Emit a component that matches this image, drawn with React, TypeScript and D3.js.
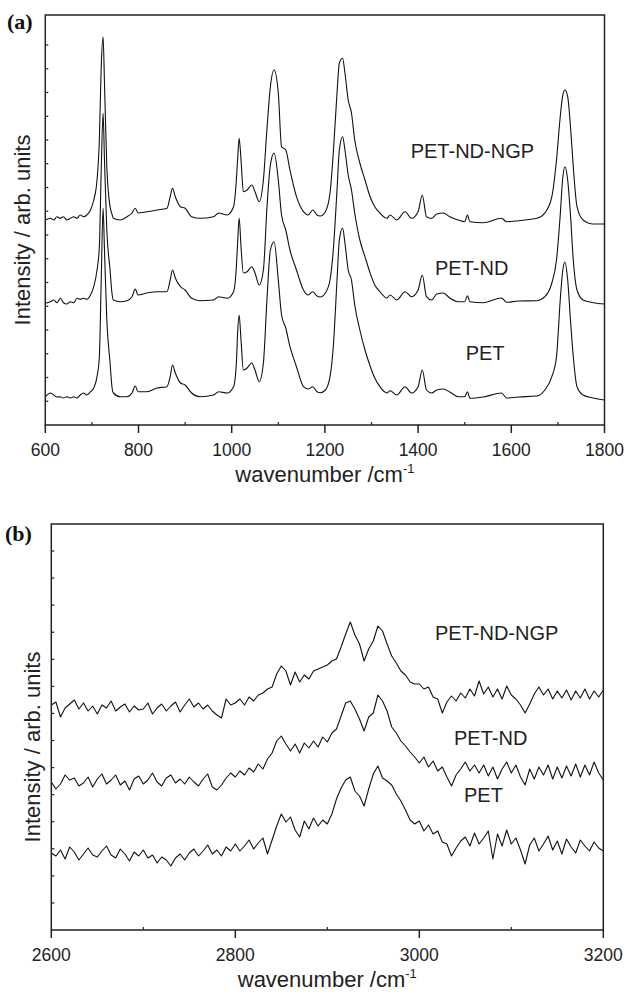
import React from 'react';
import * as d3 from 'd3';

// panel (a): fingerprint region, intensities in arb. units (stacked as plotted)
const wnA = [600, 611, 618, 625, 632, 639, 646, 654, 661, 668,
  675, 682, 689, 697, 704, 711, 716, 720, 724, 727,
  732, 739, 743, 746, 761, 775, 786, 793, 799, 818,
  840, 861, 868, 873, 879, 890, 900, 914, 932, 961,
  972, 990, 1004, 1010, 1013, 1016, 1020, 1025, 1033, 1043,
  1050, 1059, 1068, 1076, 1083, 1091, 1100, 1107, 1116, 1125,
  1139, 1154, 1164, 1174, 1183, 1190, 1201, 1211, 1218, 1226,
  1231, 1238, 1243, 1250, 1257, 1264, 1275, 1286, 1297, 1307,
  1318, 1333, 1340, 1354, 1372, 1386, 1400, 1409, 1418, 1429,
  1440, 1454, 1468, 1486, 1500, 1506, 1511, 1540, 1579, 1590,
  1615, 1655, 1672, 1687, 1697, 1705, 1710, 1715, 1721, 1727,
  1733, 1741, 1754, 1776, 1800];

const petA = [28.3, 32, 30, 28, 28.3, 27, 28.3, 27, 28.3, 27,
  30, 32, 30, 33.3, 37, 48.3, 68.3, 145, 217, 175,
  105, 62, 38.3, 32, 28.3, 28.3, 32, 39, 33.3, 33.3,
  37, 38.3, 48.3, 60, 52, 42, 40, 32, 28.3, 30,
  33.3, 32, 38.3, 62, 95, 110, 85, 55, 57, 62,
  55, 43.3, 62, 128.3, 175, 183.3, 145, 110, 97, 78.3,
  58.3, 38.3, 36, 38.3, 33.3, 32.3, 35, 48.3, 78.3, 145,
  185, 197, 182, 155, 145, 120, 95, 75, 59, 47,
  38.3, 32, 34.3, 30, 38.3, 32, 38.3, 55, 35, 32,
  35, 36, 33, 28.3, 28.3, 33.3, 26.7, 28, 32, 27,
  28, 29, 35, 48.3, 68.3, 125, 153, 163, 145, 105,
  68.3, 38.3, 30, 27, 25];

const ndA = [121.7, 123.3, 125, 122.3, 126.7, 122.3, 121, 123.3, 122.3, 126.7,
  125.7, 126.7, 125.7, 130, 138.3, 155, 178.3, 255, 312, 265,
  195, 155, 132, 125, 123.3, 124.3, 128.3, 136, 130, 132,
  133.3, 133.3, 145, 155, 147, 138.3, 135, 126.7, 124.3, 125,
  128.3, 126.7, 133.3, 158.3, 185, 207, 178.3, 152, 153.3, 158.3,
  152, 140, 155, 220, 260, 272, 245, 210, 195, 175,
  155, 135, 130, 133.3, 129, 128, 132, 145, 175, 235,
  275, 288.3, 275, 250, 235, 212, 185, 168.3, 152, 140,
  133.3, 127, 130, 125, 133.3, 128.3, 135, 150, 128.3, 125,
  131, 132, 127, 123.3, 123.3, 129.3, 123.3, 122.3, 127, 122.7,
  124, 124.3, 128.3, 142, 165, 210, 245, 258.3, 245, 210,
  165, 135, 125, 122.3, 121];

const ngpA = [205, 206.7, 205, 208.3, 206.7, 208.3, 205, 206.7, 208.3, 206.7,
  210, 208.3, 210, 215, 225, 245, 285, 358.3, 388.3, 342,
  258.3, 218.3, 211, 206.7, 205, 208.3, 212, 216.7, 212, 213.3,
  215, 216.7, 228.3, 236.7, 228.3, 218.3, 216.7, 208.3, 206.7, 208.3,
  212, 210, 218.3, 245, 268.3, 286.7, 265, 233.3, 235, 240,
  233.3, 223.3, 245, 298.3, 338.3, 355, 332, 278.3, 275, 255,
  228.3, 213.3, 210, 215, 210, 209, 213.3, 232, 272, 332,
  362, 366.7, 352, 325, 312, 285, 262, 245, 228.3, 218.3,
  212, 206.7, 210, 205, 213.3, 206.7, 213.3, 230, 208.3, 206.7,
  211, 212, 208.3, 205, 203.3, 210, 203.3, 202.3, 206.7, 203.3,
  204.3, 206.7, 212, 228.3, 265, 308.3, 328.3, 335, 328.3, 298.3,
  258.3, 218.3, 205, 201, 201];

// panel (b): C-H stretching region
const wnB = [2600, 2605, 2610, 2615, 2620, 2625, 2630, 2635, 2640, 2645,
  2650, 2655, 2660, 2665, 2670, 2675, 2680, 2685, 2690, 2695,
  2700, 2705, 2710, 2715, 2720, 2725, 2730, 2735, 2740, 2745,
  2750, 2755, 2760, 2765, 2770, 2775, 2780, 2785, 2790, 2795,
  2800, 2805, 2810, 2815, 2820, 2825, 2830, 2835, 2840, 2845,
  2850, 2855, 2860, 2865, 2870, 2875, 2880, 2885, 2890, 2895,
  2900, 2905, 2910, 2915, 2920, 2925, 2930, 2935, 2940, 2945,
  2950, 2955, 2960, 2965, 2970, 2975, 2980, 2985, 2990, 2995,
  3000, 3005, 3010, 3015, 3020, 3025, 3030, 3035, 3040, 3045,
  3050, 3055, 3060, 3065, 3070, 3075, 3080, 3085, 3090, 3095,
  3100, 3105, 3110, 3115, 3120, 3125, 3130, 3135, 3140, 3145,
  3150, 3155, 3160, 3165, 3170, 3175, 3180, 3185, 3190, 3195,
  3200];

const petB = [77, 74, 80, 71, 83, 78, 70, 76, 82, 75,
  73, 79, 84, 75, 72, 81, 76, 69, 78, 74,
  80, 72, 75, 67, 73, 70, 64, 72, 76, 70,
  77, 81, 74, 79, 85, 76, 80, 74, 83, 79,
  86, 79, 84, 90, 81, 87, 92, 76, 90, 104,
  116, 108, 113, 100, 93, 109, 101, 112, 104, 110,
  106, 116, 131, 142, 150, 153, 139, 134, 124, 141,
  156, 164, 152, 149, 145, 136, 129, 120, 110, 106,
  109, 99, 105, 96, 99, 88, 86, 74, 82, 89,
  93, 84, 97, 86, 92, 99, 71, 96, 84, 100,
  86, 92, 80, 66, 85, 92, 79, 86, 94, 80,
  89, 76, 91, 83, 77, 90, 84, 79, 88, 82,
  79];

const ndB = [148, 141, 146, 155, 150, 152, 144, 147, 153, 143,
  151, 156, 146, 150, 155, 145, 149, 140, 151, 154,
  146, 150, 157, 148, 144, 152, 155, 147, 151, 146,
  153, 148, 144, 151, 156, 143, 140, 145, 152, 157,
  153, 159, 155, 162, 158, 166, 161, 171, 177, 189,
  194, 186, 179, 186, 177, 187, 182, 189, 183, 193,
  188, 197, 201, 214, 227, 229, 221, 211, 199, 213,
  217, 235, 229, 219, 203, 197, 189, 184, 178, 173,
  167, 173, 163, 169, 159, 163, 153, 144, 155, 161,
  168, 159, 165, 157, 165, 154, 163, 151, 161, 168,
  157, 165, 153, 145, 161, 151, 163, 155, 165, 151,
  163, 152, 164, 154, 166, 153, 165, 155, 168, 157,
  150];

const ngpB = [225, 228, 213, 222, 226, 230, 221, 227, 219, 224,
  216, 225, 222, 229, 219, 223, 226, 218, 224, 220,
  221, 227, 216, 222, 226, 219, 224, 228, 218, 225,
  231, 223, 227, 221, 225, 219, 215, 212, 231, 225,
  227, 231, 225, 233, 229, 235, 237, 241, 243, 256,
  264, 259, 245, 258, 248, 255, 251, 259, 261, 263,
  265, 269, 271, 283, 296, 308, 295, 286, 269, 281,
  289, 304, 299, 286, 274, 267, 259, 255, 248, 246,
  246, 241, 243, 233, 231, 217, 228, 234, 229, 237,
  232, 241, 234, 249, 236, 243, 233, 241, 231, 244,
  235, 231, 225, 217, 226, 236, 243, 235, 241, 231,
  239, 232, 240, 230, 239, 232, 241, 231, 239, 233,
  240];

const majorA = [600, 800, 1000, 1200, 1400, 1600, 1800];
const minorA = [700, 900, 1100, 1300, 1500, 1700];
const majorB = [2600, 2800, 3000, 3200];
const minorB = [2700, 2900, 3100];
const sampleNames = ['PET-ND-NGP', 'PET-ND', 'PET'];

const sans = '"Liberation Sans", Arial, Helvetica, sans-serif';
const serif = '"Liberation Serif", "Times New Roman", serif';

type PanelProps = {
  tag: string;
  tagX: number;
  tagY: number;
  left: number;
  right: number;
  top: number;
  bottom: number;
  xDomain: [number, number];
  yMax: number;
  yStep: number;
  yTicks: number;
  wn: number[];
  series: number[][];
  majors: number[];
  minors: number[];
  curve: d3.CurveFactory;
  labelPos: [number, number][];
  yTitle: [number, number];
};

const Panel = (p: PanelProps) => {
  const x = d3.scaleLinear().domain(p.xDomain).range([p.left, p.right]);
  const y = d3.scaleLinear().domain([0, p.yMax]).range([p.bottom, p.top]);
  const line = d3.line<number>()
    .x((d, i) => x(p.wn[i]))
    .y(d => y(d))
    .curve(p.curve);
  const yTickVals = d3.range(1, p.yTicks + 1).map(k => k * p.yStep);
  const cx = (p.left + p.right) / 2;

  return (
    <g>
      <text x={p.tagX} y={p.tagY} fontFamily={serif} fontWeight="bold" fontSize={22} fill="#111">{p.tag}</text>
      {p.series.map((s, i) => (
        <path key={i} d={line(s) || ''} fill="none" stroke="#111" strokeWidth={1.1} strokeLinejoin="round" />
      ))}
      <rect x={p.left} y={p.top} width={p.right - p.left} height={p.bottom - p.top}
        fill="none" stroke="#222" strokeWidth={1.5} />
      {yTickVals.map(v => (
        <line key={'y' + v} x1={p.left} x2={p.left + 3} y1={y(v)} y2={y(v)} stroke="#222" strokeWidth={1.2} />
      ))}
      {p.majors.map(v => (
        <g key={'M' + v}>
          <line x1={x(v)} x2={x(v)} y1={p.bottom} y2={p.bottom + 8} stroke="#222" strokeWidth={1.5} />
          <text x={x(v)} y={p.bottom + 31} textAnchor="middle" fontFamily={sans} fontSize={17.5} fill="#222">{v}</text>
        </g>
      ))}
      {p.minors.map(v => (
        <line key={'m' + v} x1={x(v)} x2={x(v)} y1={p.bottom} y2={p.bottom - 3} stroke="#222" strokeWidth={1.2} />
      ))}
      <text x={cx} y={p.bottom + 57} textAnchor="middle" fontFamily={sans} fontSize={22} fill="#222">
        wavenumber /cm<tspan fontSize={13} dy={-9}>-1</tspan>
      </text>
      <text transform={`translate(${p.yTitle[0]},${p.yTitle[1]}) rotate(-90)`} textAnchor="middle"
        fontFamily={sans} fontSize={22} fill="#222">Intensity / arb. units</text>
      {sampleNames.map((n, i) => (
        <text key={n} x={p.labelPos[i][0]} y={p.labelPos[i][1]} fontFamily={sans} fontSize={20} fill="#222">{n}</text>
      ))}
    </g>
  );
};

export default function App() {
  return (
    <svg width={625} height={998} style={{ position: 'absolute', left: 0, top: 0, background: '#fff' }}>
      <rect width={625} height={998} fill="#fff" />
      <Panel tag="(a)" tagX={7} tagY={29}
        left={45.3} right={604.5} top={15} bottom={425}
        xDomain={[600, 1800]} yMax={410} yStep={23.75} yTicks={16}
        wn={wnA} series={[ngpA, ndA, petA]} majors={majorA} minors={minorA}
        curve={d3.curveMonotoneX}
        labelPos={[[410.7, 158], [435, 275], [465.7, 360]]}
        yTitle={[30, 230]} />
      <Panel tag="(b)" tagX={5} tagY={541}
        left={51.3} right={603.3} top={524} bottom={930}
        xDomain={[2600, 3200]} yMax={406} yStep={27.07} yTicks={14}
        wn={wnB} series={[ngpB, ndB, petB]} majors={majorB} minors={minorB}
        curve={d3.curveLinear}
        labelPos={[[435, 640], [454, 745], [464, 802]]}
        yTitle={[40, 747]} />
    </svg>
  );
}
